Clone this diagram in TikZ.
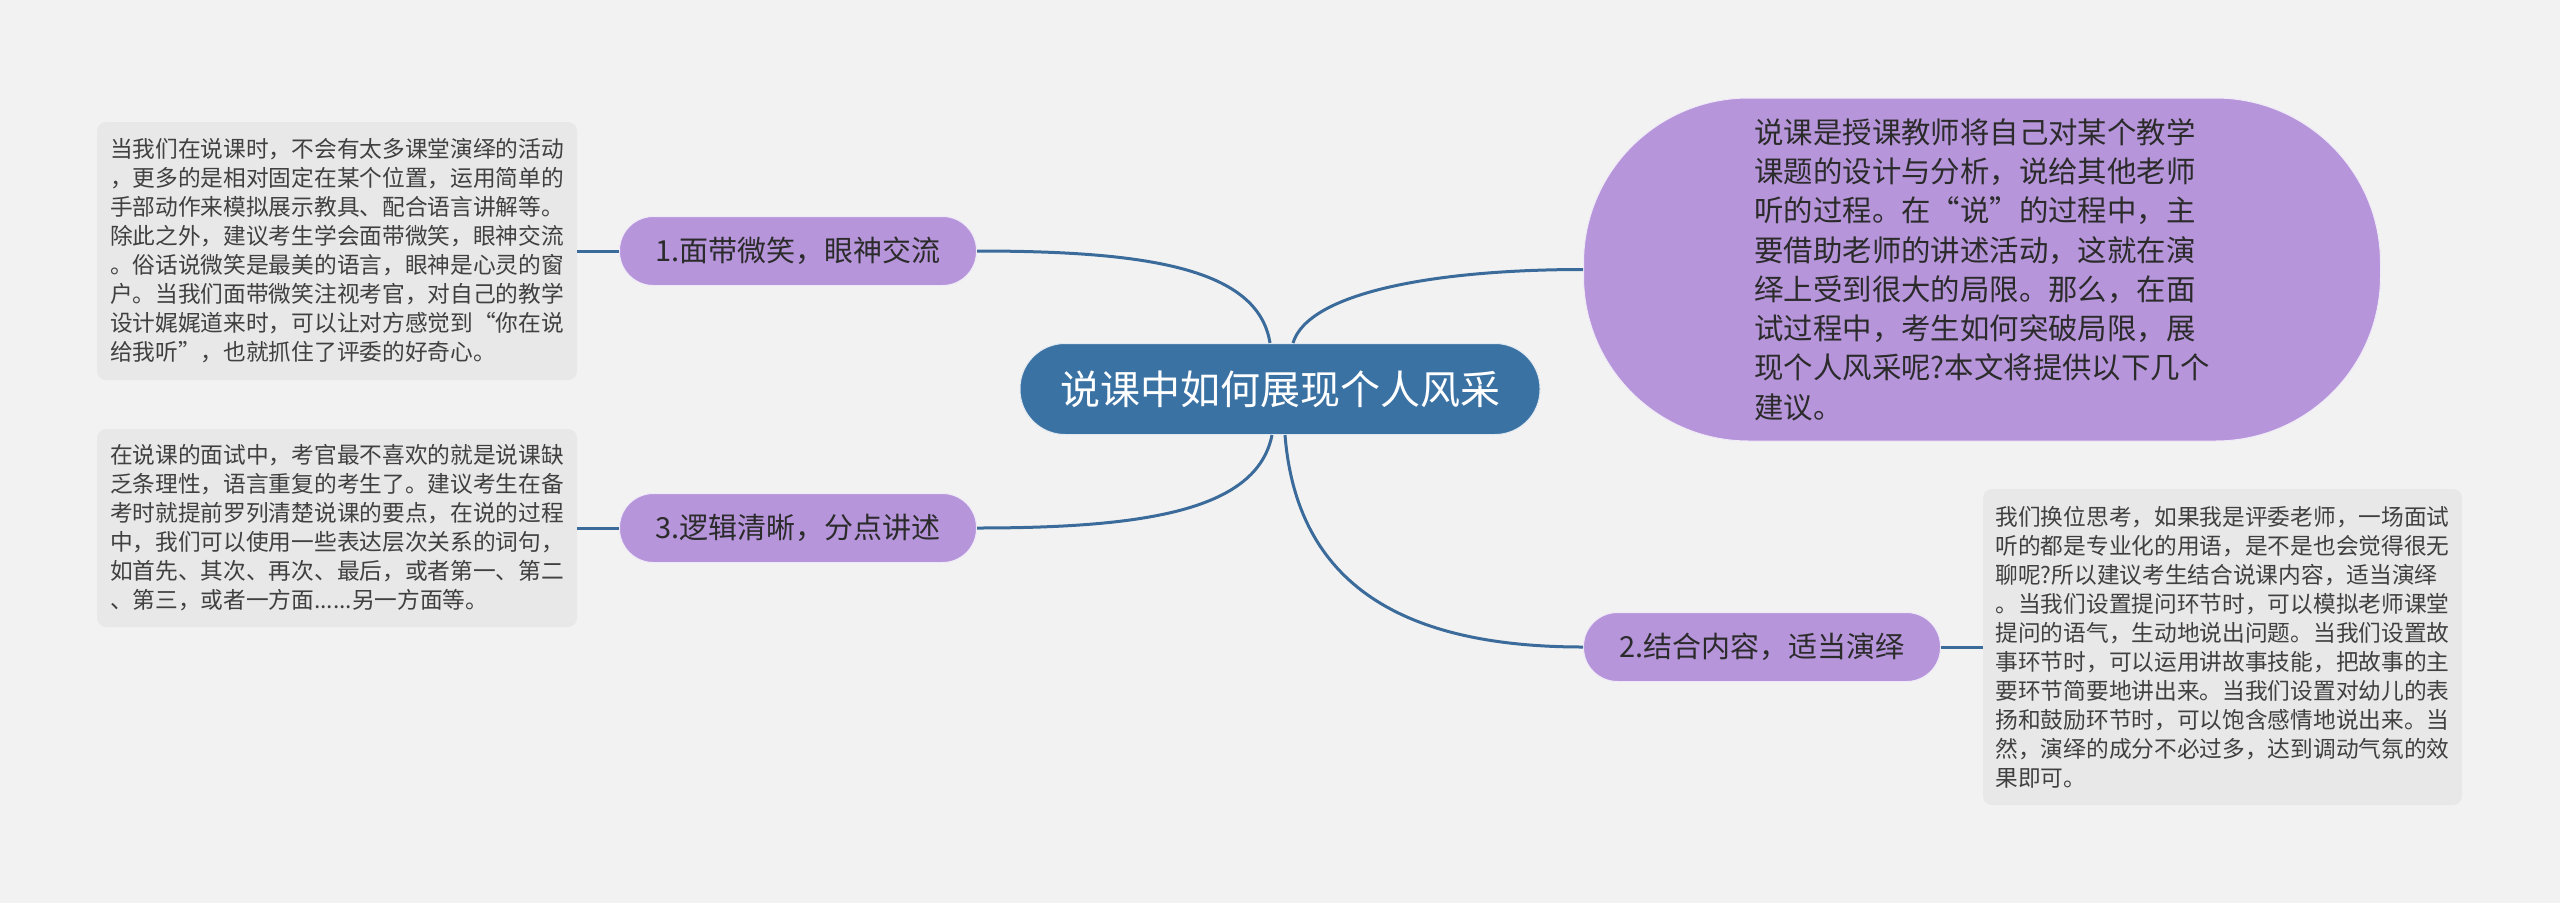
\documentclass[tikz,border=0pt]{standalone}
\usepackage{fontspec}
\newfontfamily\cjk{Noto Sans CJK SC}
\definecolor{bgc}{HTML}{F2F2F2}
\definecolor{ctrc}{HTML}{3B72A4}
\definecolor{purc}{HTML}{B695DA}
\definecolor{boxc}{HTML}{E8E8E8}
\definecolor{linec}{HTML}{3A6B9B}
\definecolor{txtc}{HTML}{2B2B2B}
\tikzset{
  ctrnode/.style={fill=ctrc, draw=white!85!ctrc, line width=1pt, rounded corners=45pt,
    minimum width=520pt, minimum height=91pt, inner sep=0pt, text=white,
    font={\cjk\fontsize{40}{48}\selectfont}},
  branch/.style={fill=purc, draw=white!80!purc, line width=1pt, rounded corners=34pt,
    minimum width=357pt, minimum height=69pt, inner sep=0pt, text=txtc,
    font={\cjk\fontsize{29}{34}\selectfont}},
  bignode/.style={fill=purc, draw=white!80!purc, line width=1pt, rounded corners=165pt,
    minimum width=797pt, minimum height=343pt, inner sep=0pt, text=txtc, align=left,
    font={\cjk\fontsize{29.4}{39.3}\selectfont}},
  textbox/.style={fill=boxc, rounded corners=9pt, inner sep=0pt, text=txtc!90!white,
    minimum width=480pt, align=left, font={\cjk\fontsize{22.7}{29}\selectfont}},
  conn/.style={draw=linec, line width=3pt},
}
\begin{document}
\begin{tikzpicture}[x=1pt,y=-1pt]
\useasboundingbox (0,0) rectangle (2560,903);
\fill[bgc] (0,0) rectangle (2560,903);

\node[ctrnode] (ctr) at (1280,389) {说课中如何展现个人风采};
\node[branch] (n1) at (798,251) {1.面带微笑，眼神交流};
\node[branch] (n3) at (798,528) {3.逻辑清晰，分点讲述};
\node[branch] (n2) at (1762,647) {2.结合内容，适当演绎};
\node[bignode] (big) at (1982,269.5) {说课是授课教师将自己对某个教学\\课题的设计与分析，说给其他老师\\听的过程。在“说”的过程中，主\\要借助老师的讲述活动，这就在演\\绎上受到很大的局限。那么，在面\\试过程中，考生如何突破局限，展\\现个人风采呢?本文将提供以下几个\\建议。};

\node[textbox, minimum height=258pt] (b1) at (337,251) {当我们在说课时，不会有太多课堂演绎的活动\\，更多的是相对固定在某个位置，运用简单的\\手部动作来模拟展示教具、配合语言讲解等。\\除此之外，建议考生学会面带微笑，眼神交流\\。俗话说微笑是最美的语言，眼神是心灵的窗\\户。当我们面带微笑注视考官，对自己的教学\\设计娓娓道来时，可以让对方感觉到“你在说\\给我听”，也就抓住了评委的好奇心。};

\node[textbox, minimum height=198pt] (b3) at (337,528) {在说课的面试中，考官最不喜欢的就是说课缺\\乏条理性，语言重复的考生了。建议考生在备\\考时就提前罗列清楚说课的要点，在说的过程\\中，我们可以使用一些表达层次关系的词句，\\如首先、其次、再次、最后，或者第一、第二\\、第三，或者一方面......另一方面等。};

\node[textbox, minimum width=479pt, minimum height=316pt] (b2) at (2222.5,647) {我们换位思考，如果我是评委老师，一场面试\\听的都是专业化的用语，是不是也会觉得很无\\聊呢?所以建议考生结合说课内容，适当演绎\\。当我们设置提问环节时，可以模拟老师课堂\\提问的语气，生动地说出问题。当我们设置故\\事环节时，可以运用讲故事技能，把故事的主\\要环节简要地讲出来。当我们设置对幼儿的表\\扬和鼓励环节时，可以饱含感情地说出来。当\\然，演绎的成分不必过多，达到调动气氛的效\\果即可。};

\draw[conn] ([xshift=-10pt]ctr.north) .. controls +(-12,-75) and +(170,0) .. (n1.east);
\draw[conn] ([xshift=13pt]ctr.north) .. controls +(15,-50) and +(-150,0) .. (big.west);
\draw[conn] ([xshift=-8pt]ctr.south) .. controls +(-15,75) and +(170,0) .. (n3.east);
\draw[conn] ([xshift=5pt]ctr.south) .. controls +(12,150) and +(-180,0) .. (n2.west);
\draw[conn] (n1.west) -- (b1.east |- n1.west);
\draw[conn] (n3.west) -- (b3.east |- n3.west);
\draw[conn] (n2.east) -- (b2.west |- n2.east);
\end{tikzpicture}
\end{document}
